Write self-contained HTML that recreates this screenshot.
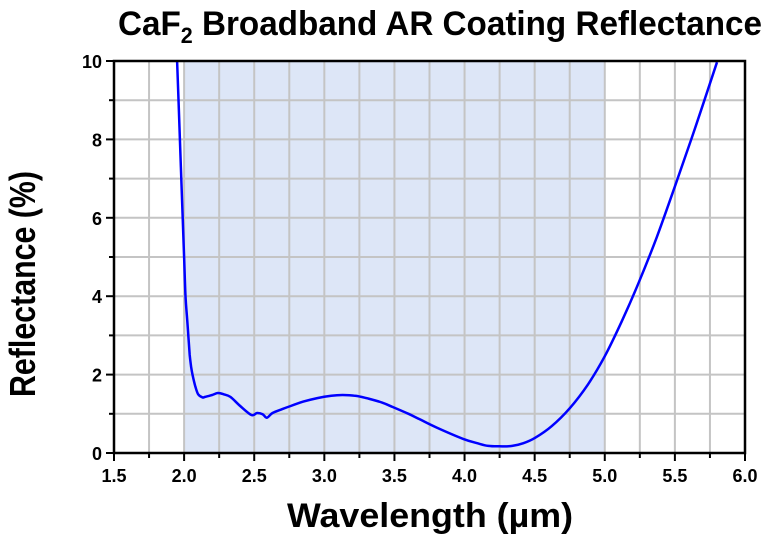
<!DOCTYPE html>
<html><head><meta charset="utf-8"><style>
body{margin:0;background:#fff;font-family:"Liberation Sans",sans-serif}
svg text{font-family:"Liberation Sans",sans-serif;font-weight:bold}
</style></head><body>
<svg id="chart" width="780" height="536" xmlns="http://www.w3.org/2000/svg">
<text x="118" y="35" font-size="34" textLength="644" lengthAdjust="spacingAndGlyphs">CaF<tspan font-size="22" dy="8">2</tspan><tspan dy="-8"> Broadband AR Coating Reflectance</tspan></text>
<text transform="translate(35,397) rotate(-90)" font-size="36" textLength="226" lengthAdjust="spacingAndGlyphs">Reflectance (%)</text>
<text x="287" y="527" font-size="34" textLength="286" lengthAdjust="spacingAndGlyphs">Wavelength (µm)</text>
<g id="plot"></g>
</svg>
<script>
const wavelengths=[1.95,1.97,1.99,2.0,2.01,2.02,2.03,2.04,2.05,2.06,2.08,2.10,2.13,2.15,2.2,2.24,2.28,2.33,2.4,2.48,2.52,2.56,2.59,2.63,2.7,2.76,2.85,2.95,3.05,3.13,3.22,3.3,3.4,3.49,3.6,3.68,3.8,3.99,4.1,4.17,4.25,4.34,4.42,4.5,4.62,4.75,4.88,5.0,5.12,5.24,5.37,5.5,5.65,5.8];
const reflectance=[10,8,6,5,4,3.5,3,2.5,2.2,2,1.7,1.5,1.42,1.43,1.48,1.53,1.5,1.43,1.2,0.97,1.02,0.99,0.9,1.02,1.12,1.2,1.31,1.4,1.46,1.48,1.46,1.4,1.3,1.17,1.0,0.86,0.65,0.36,0.24,0.18,0.17,0.18,0.25,0.38,0.68,1.14,1.75,2.47,3.35,4.33,5.5,6.8,8.35,9.97];
const xTicks=[1.5,2.0,2.5,3.0,3.5,4.0,4.5,5.0,5.5,6.0];
const yTicks=[0,2,4,6,8,10];
const bandStart=2.0, bandEnd=5.0;
const L=114,R=745,T=61,B=453;
const X=v=>L+(v-1.5)/4.5*(R-L);
const Y=v=>B-v/10*(B-T);
const g=document.getElementById('plot');
const NS='http://www.w3.org/2000/svg';
function mk(t,a){const e=document.createElementNS(NS,t);for(const k in a)e.setAttribute(k,a[k]);g.appendChild(e);return e;}
let band=mk('rect',{x:X(bandStart),y:T,width:X(bandEnd)-X(bandStart),height:B-T,fill:'#dde6f7'});


for(let v=1.75;v<6;v+=0.25){let l=mk('line',{x1:X(v),x2:X(v),y1:T,y2:B,stroke:'#c4c4c4','stroke-width':2});

}
for(let v=1;v<10;v++){let l=mk('line',{x1:L,x2:R,y1:Y(v),y2:Y(v),stroke:'#c4c4c4','stroke-width':2});

}
const P=wavelengths.map((w,i)=>[X(w),Y(reflectance[i])]);
let d='M'+P[0][0].toFixed(1)+','+P[0][1].toFixed(1);
for(let i=0;i<P.length-1;i++){const p0=P[Math.max(0,i-1)],p1=P[i],p2=P[i+1],p3=P[Math.min(P.length-1,i+2)];
const c1=[p1[0]+(p2[0]-p0[0])/6,p1[1]+(p2[1]-p0[1])/6],c2=[p2[0]-(p3[0]-p1[0])/6,p2[1]-(p3[1]-p1[1])/6];
d+=' C'+c1[0].toFixed(1)+','+c1[1].toFixed(1)+' '+c2[0].toFixed(1)+','+c2[1].toFixed(1)+' '+p2[0].toFixed(1)+','+p2[1].toFixed(1);}
let c=mk('path',{d:d,fill:'none',stroke:'#0000ff','stroke-width':2.5,'stroke-linejoin':'round'});


let f=mk('rect',{x:L,y:T,width:R-L,height:B-T,fill:'none',stroke:'#000','stroke-width':2.5});


for(let v=1.5;v<=6.001;v+=0.25){const maj=Math.abs(v*2-Math.round(v*2))<1e-6;let t=mk('line',{x1:X(v),x2:X(v),y1:B,y2:B+(maj?8:5),stroke:'#000','stroke-width':2});

}
for(let v=0;v<=10;v++){let t=mk('line',{x1:L,x2:L-(v%2?5:8),y1:Y(v),y2:Y(v),stroke:'#000','stroke-width':2});

}
xTicks.forEach(v=>{let t=mk('text',{x:X(v),y:B+29,'text-anchor':'middle','font-size':18});t.textContent=v.toFixed(1);

});
yTicks.forEach(v=>{let t=mk('text',{x:L-12,y:Y(v)+7,'text-anchor':'end','font-size':18});t.textContent=v;

});
</script>
</body></html>
